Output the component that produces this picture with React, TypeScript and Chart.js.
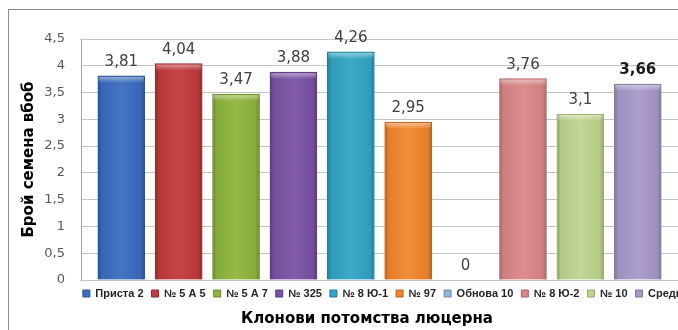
import { useEffect, useRef } from "react";
import { Chart, registerables } from "chart.js";

Chart.register(...registerables);

// Clone progenies (one series each) and their mean seed count per pod
const clones = [
  "Приста 2",
  "№ 5 А 5",
  "№ 5 А 7",
  "№ 325",
  "№ 8 Ю-1",
  "№ 97",
  "Обнова 10",
  "№ 8 Ю-2",
  "№ 10",
  "Средно",
];
const seedsPerPod = [3.81, 4.04, 3.47, 3.88, 4.26, 2.95, 0, 3.76, 3.1, 3.66];
const yTickValues = [0, 0.5, 1, 1.5, 2, 2.5, 3, 3.5, 4, 4.5];

const yTitle = "Брой семена вбоб";
const xTitle = "Клонови потомства люцерна";

const fills = [
  "#3a6cc0",
  "#c23a3c",
  "#8fb53c",
  "#7b51a6",
  "#32a5c6",
  "#f3862c",
  "#8db3e2",
  "#dc8688",
  "#bfd58f",
  "#a899ca",
];
const edges = [
  "#2b5391",
  "#8f2a2b",
  "#6a8a2a",
  "#5a3a7c",
  "#237c96",
  "#b9621d",
  "#6a8cbb",
  "#a86466",
  "#95aa6a",
  "#7f73a0",
];

const CANVAS_W = 764;
const CANVAS_H = 330;

const fmt = (v: number) => String(v).replace(".", ",");

// White page, outer frame of the chart
const framePlugin = {
  id: "frame",
  beforeDraw(chart: any) {
    const ctx = chart.ctx;
    ctx.save();
    ctx.fillStyle = "#ffffff";
    ctx.fillRect(0, 0, chart.width, chart.height);
    ctx.strokeStyle = "#8c8c8c";
    ctx.lineWidth = 1;
    ctx.strokeRect(8.5, 9.5, chart.width + 20, chart.height + 20);
    ctx.restore();
  },
};

// Bevel-like shading over each bar
const shadePlugin = {
  id: "shade",
  afterDatasetsDraw(chart: any) {
    const ctx = chart.ctx;
    chart.data.datasets.forEach((_: any, i: number) => {
      const meta = chart.getDatasetMeta(i);
      meta.data.forEach((el: any) => {
        const { x, y, base, width } = el.getProps(["x", "y", "base", "width"], true);
        const h = base - y;
        if (h <= 1) return;
        const l = x - width / 2;
        ctx.save();
        const g = ctx.createLinearGradient(l, 0, l + width, 0);
        g.addColorStop(0, "rgba(0,0,0,0.30)");
        g.addColorStop(0.08, "rgba(0,0,0,0.06)");
        g.addColorStop(0.5, "rgba(255,255,255,0.06)");
        g.addColorStop(0.92, "rgba(0,0,0,0.06)");
        g.addColorStop(1, "rgba(0,0,0,0.30)");
        ctx.fillStyle = g;
        ctx.fillRect(l + 1, y + 1, width - 2, h - 1);
        const t = ctx.createLinearGradient(0, y, 0, y + 7);
        t.addColorStop(0, "rgba(255,255,255,0.5)");
        t.addColorStop(1, "rgba(255,255,255,0)");
        ctx.fillStyle = t;
        ctx.fillRect(l + 1, y + 1, width - 2, Math.min(7, h - 1));
        ctx.restore();
      });
    });
  },
};

// Value labels above bars and the horizontal axis title
const labelPlugin = {
  id: "labels",
  afterDraw(chart: any) {
    const ctx = chart.ctx;
    const last = chart.data.datasets.length - 1;
    ctx.save();
    ctx.textAlign = "center";
    ctx.textBaseline = "alphabetic";
    chart.data.datasets.forEach((ds: any, i: number) => {
      const meta = chart.getDatasetMeta(i);
      meta.data.forEach((el: any, j: number) => {
        const v = ds.data[j].y;
        ctx.font = i === last ? "bold 15px 'DejaVu Sans'" : "15px 'DejaVu Sans'";
        ctx.fillStyle = i === last ? "#1a1a1a" : "#404040";
        ctx.fillText(fmt(v), el.x, el.y - 10);
      });
    });
    ctx.font = "bold 15px 'DejaVu Sans'";
    ctx.fillStyle = "#000000";
    ctx.textBaseline = "middle";
    ctx.fillText(xTitle, 367, 319);
    ctx.restore();
  },
};

export default function App() {
  const ref = useRef<HTMLCanvasElement | null>(null);

  useEffect(() => {
    if (!ref.current) return;
    const chart = new Chart(ref.current, {
      type: "bar",
      data: {
        datasets: clones.map((name, i) => ({
          label: name,
          data: [{ x: i, y: seedsPerPod[i] }],
          backgroundColor: fills[i],
          borderColor: edges[i],
          borderWidth: 1,
          grouped: false,
          barThickness: 47,
        })),
      },
      options: {
        responsive: false,
        animation: false,
        devicePixelRatio: 1,
        layout: { padding: { left: 8, right: 0, top: 39, bottom: 21 } },
        plugins: {
          tooltip: { enabled: false },
          title: { display: false },
          legend: {
            position: "bottom",
            labels: {
              boxWidth: 7,
              boxHeight: 7,
              padding: 8,
              color: "#262626",
              font: { family: "'Liberation Sans'", size: 11, weight: "bold" },
            },
          },
        },
        scales: {
          x: {
            type: "linear",
            display: false,
            offset: false,
            min: -0.702,
            max: 11.2,
          },
          y: {
            min: 0,
            max: 4.5,
            afterBuildTicks: (s: any) => {
              s.ticks = yTickValues.map((v) => ({ value: v }));
            },
            afterFit: (s: any) => {
              s.width = 73;
            },
            ticks: {
              padding: 16,
              color: "#595959",
              font: { family: "'DejaVu Sans'", size: 13 },
              callback: (v: any) => fmt(Number(v)),
            },
            grid: { color: "#c4c4c4", drawTicks: false },
            border: { display: true, color: "#a6a6a6" },
            title: {
              display: true,
              text: yTitle,
              color: "#000000",
              padding: { top: 12, bottom: 0 },
              font: { family: "'DejaVu Sans'", size: 15, weight: "bold" },
            },
          },
        },
      },
      plugins: [framePlugin, shadePlugin, labelPlugin],
    } as any);
    return () => chart.destroy();
  }, []);

  return (
    <div
      style={{
        position: "fixed",
        left: 0,
        top: 0,
        width: 678,
        height: 330,
        overflow: "hidden",
        background: "#ffffff",
      }}
    >
      <canvas
        ref={ref}
        width={CANVAS_W}
        height={CANVAS_H}
        style={{ display: "block", width: CANVAS_W, height: CANVAS_H }}
      />
    </div>
  );
}
